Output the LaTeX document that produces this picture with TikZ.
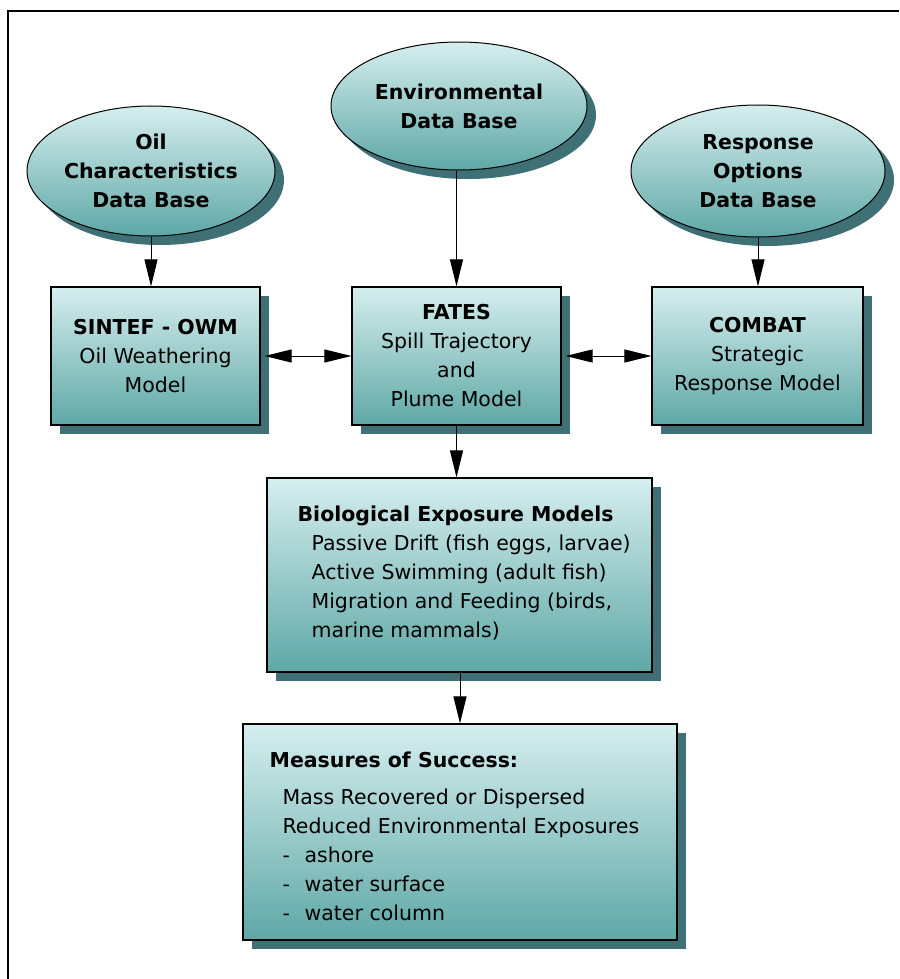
\documentclass[tikz,border=0pt]{standalone}
\usepackage{fontspec}
\setmainfont{DejaVu Sans}
\usetikzlibrary{shapes.geometric,shadows,arrows.meta}
\definecolor{lightteal}{RGB}{214,238,238}
\definecolor{darkteal}{RGB}{94,168,166}
\definecolor{shadowteal}{RGB}{62,112,118}
\newcommand{\boxfont}{\fontsize{20.5}{29}\selectfont}

\begin{document}
\begin{tikzpicture}[x=1pt, y=-1pt,
    base/.style={draw=black, top color=lightteal, bottom color=darkteal,
        drop shadow={shadow xshift=9pt, shadow yshift=-9pt, fill=shadowteal, opacity=1},
        font=\boxfont, align=center, inner sep=0pt},
    database/.style={base, ellipse, line width=1pt, font=\boxfont\bfseries},
    model/.style={base, rectangle, line width=1.2pt},
    listtext/.style={font=\boxfont, align=left, inner sep=0pt},
    flow/.style={line width=1pt, -{Triangle[length=27pt, width=13pt]}},
    twoway/.style={line width=1pt, {Triangle[length=27pt, width=13pt]}-{Triangle[length=27pt, width=13pt]}, shorten <=4pt}]
    %% page size and the frame line on the left and top
    \useasboundingbox (0,0) rectangle (899,979);
    \draw[line width=2pt] (8,979) -- (8,11) -- (899,11);
    %% the three data bases
    \node[database, minimum width=248pt, minimum height=130pt] (oil) at (151,171) {Oil\\Characteristics\\Data Base};
    \node[database, minimum width=256pt, minimum height=128pt] (env) at (459,106) {Environmental\\Data Base};
    \node[database, minimum width=254pt, minimum height=132pt] (resp) at (758,171) {Response\\Options\\Data Base};
    %% the three models
    \node[model, minimum width=209pt, minimum height=138pt] (sintef) at (155.5,356) {\textbf{SINTEF - OWM}\\Oil Weathering\\Model};
    \node[model, minimum width=209pt, minimum height=138pt] (fates) at (456.5,356) {\textbf{FATES}\\Spill Trajectory\\and\\Plume Model};
    \node[model, minimum width=211pt, minimum height=138pt] (combat) at (757.5,356) {\textbf{COMBAT}\\Strategic\\Response Model};
    %% exposure and success boxes, text placed from the top left corner
    \node[model, minimum width=385pt, minimum height=194pt] (bio) at (459.5,575) {};
    \node[listtext, anchor=north west] (biotext) at ([xshift=31pt, yshift=-28pt]bio.north west)
        {\textbf{Biological Exposure Models}\\
         \hspace*{14pt}Passive Drift (fish eggs, larvae)\\
         \hspace*{14pt}Active Swimming (adult fish)\\
         \hspace*{14pt}Migration and Feeding (birds,\\
         \hspace*{14pt}marine mammals)};
    \node[model, minimum width=434pt, minimum height=216pt] (success) at (460,832) {};
    \node[listtext, anchor=north west] (successtext) at ([xshift=27pt, yshift=-28pt]success.north west)
        {\textbf{Measures of Success:}\\[8pt]
         \hspace*{13pt}Mass Recovered or Dispersed\\
         \hspace*{13pt}Reduced Environmental Exposures\\
         \hspace*{13pt}\makebox[22pt][l]{-}ashore\\
         \hspace*{13pt}\makebox[22pt][l]{-}water surface\\
         \hspace*{13pt}\makebox[22pt][l]{-}water column};
    %% connectors
    \draw[flow] (oil.south) -- (oil.south |- sintef.north);
    \draw[flow] (fates.north |- env.south) -- (fates.north);
    \draw[flow] (resp.south) -- (resp.south |- combat.north);
    \draw[twoway] (sintef.east) -- (fates.west);
    \draw[twoway] (fates.east) -- (combat.west);
    \draw[flow] (fates.south) -- (fates.south |- bio.north);
    \draw[flow] (success.north |- bio.south) -- (success.north);
\end{tikzpicture}
\end{document}
